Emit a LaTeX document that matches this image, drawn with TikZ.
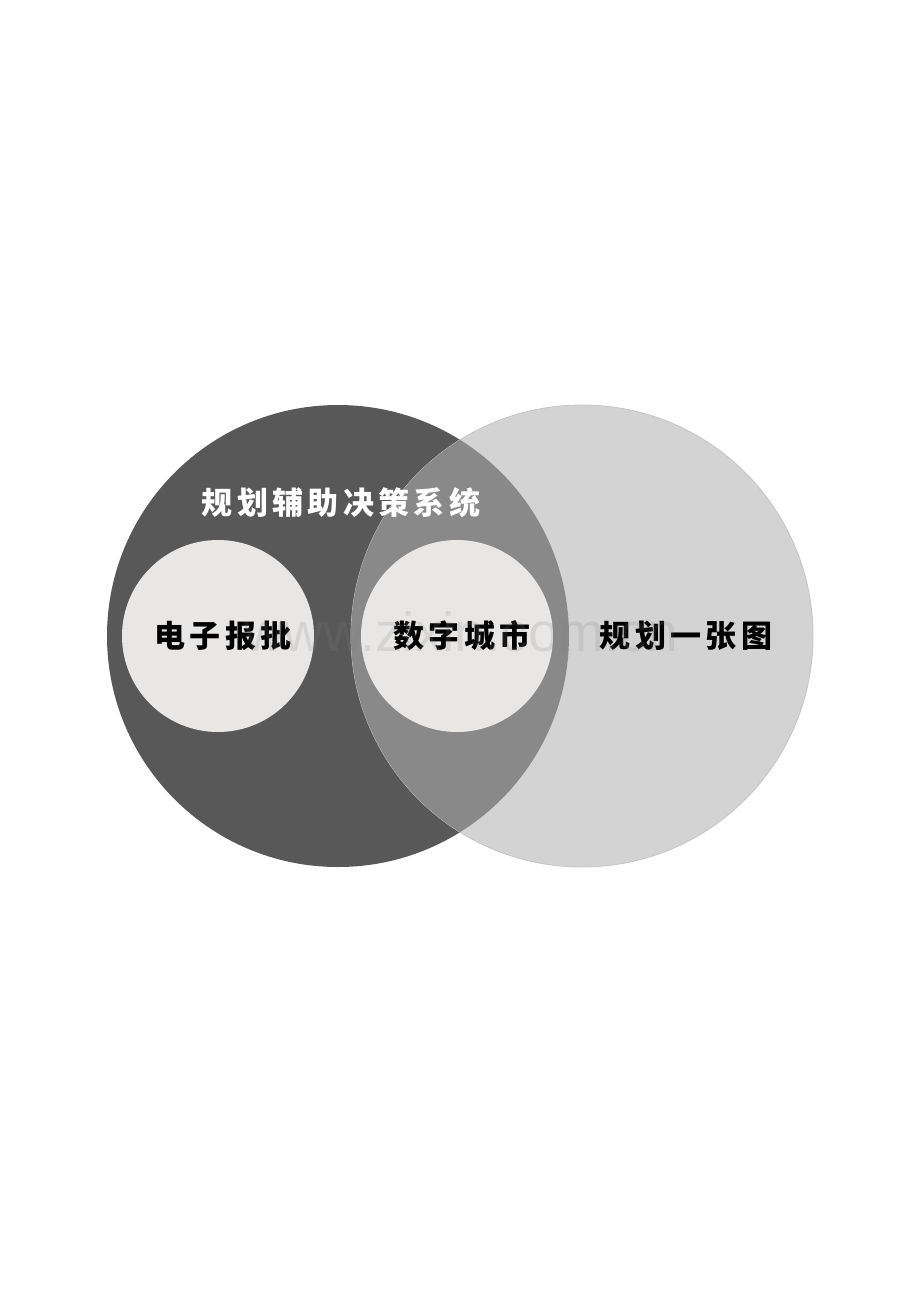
\documentclass[tikz,border=0pt]{standalone}
\usepackage{fontspec}
\newfontfamily\cjk[LetterSpace=14]{Noto Sans CJK SC}
\newfontfamily\wmfont{Liberation Sans}
\definecolor{darkc}{HTML}{585858}
\definecolor{lightc}{HTML}{D4D3D4}
\definecolor{midc}{HTML}{898989}
\definecolor{innerc}{HTML}{E8E7E6}
\definecolor{edgec}{HTML}{C6C5C6}
\tikzset{
  biglabel/.style={font=\cjk\bfseries\fontsize{31pt}{34pt}\selectfont, inner sep=0pt},
  innercircle/.style={circle, fill=innerc, minimum size=192pt, inner sep=0pt}
}
\begin{document}
\begin{tikzpicture}[x=1pt,y=-1pt]
\path[use as bounding box, fill=white] (0,0) rectangle (920,1302);
% big circles
\coordinate (lc) at (338,636);
\coordinate (rc) at (582,636);
\fill[darkc] (lc) circle[radius=231pt];
\fill[lightc, draw=edgec, line width=0.8pt] (rc) circle[radius=231pt];
\begin{scope}
  \clip (lc) circle[radius=231pt];
  \fill[midc] (rc) circle[radius=231pt];
\end{scope}
% inner circles
\node[innercircle] (e) at (218,636) {};
\node[innercircle] (d) at (457,636) {};
% labels
\node[biglabel, text=white] (top) at (341,503) {规划辅助决策系统};
\node[biglabel, text=black] (t1) at (223,636) {电子报批};
\node[biglabel, text=black] (t2) at (462,636) {数字城市};
\node[biglabel, text=black] (t3) at (686,636) {规划一张图};
% watermark
\node[font=\wmfont\fontsize{55pt}{60pt}\selectfont, text=gray, opacity=0.18, anchor=base, inner sep=0pt] (wm) at (461,651) {www.zixin.com.cn};
\end{tikzpicture}
\end{document}
